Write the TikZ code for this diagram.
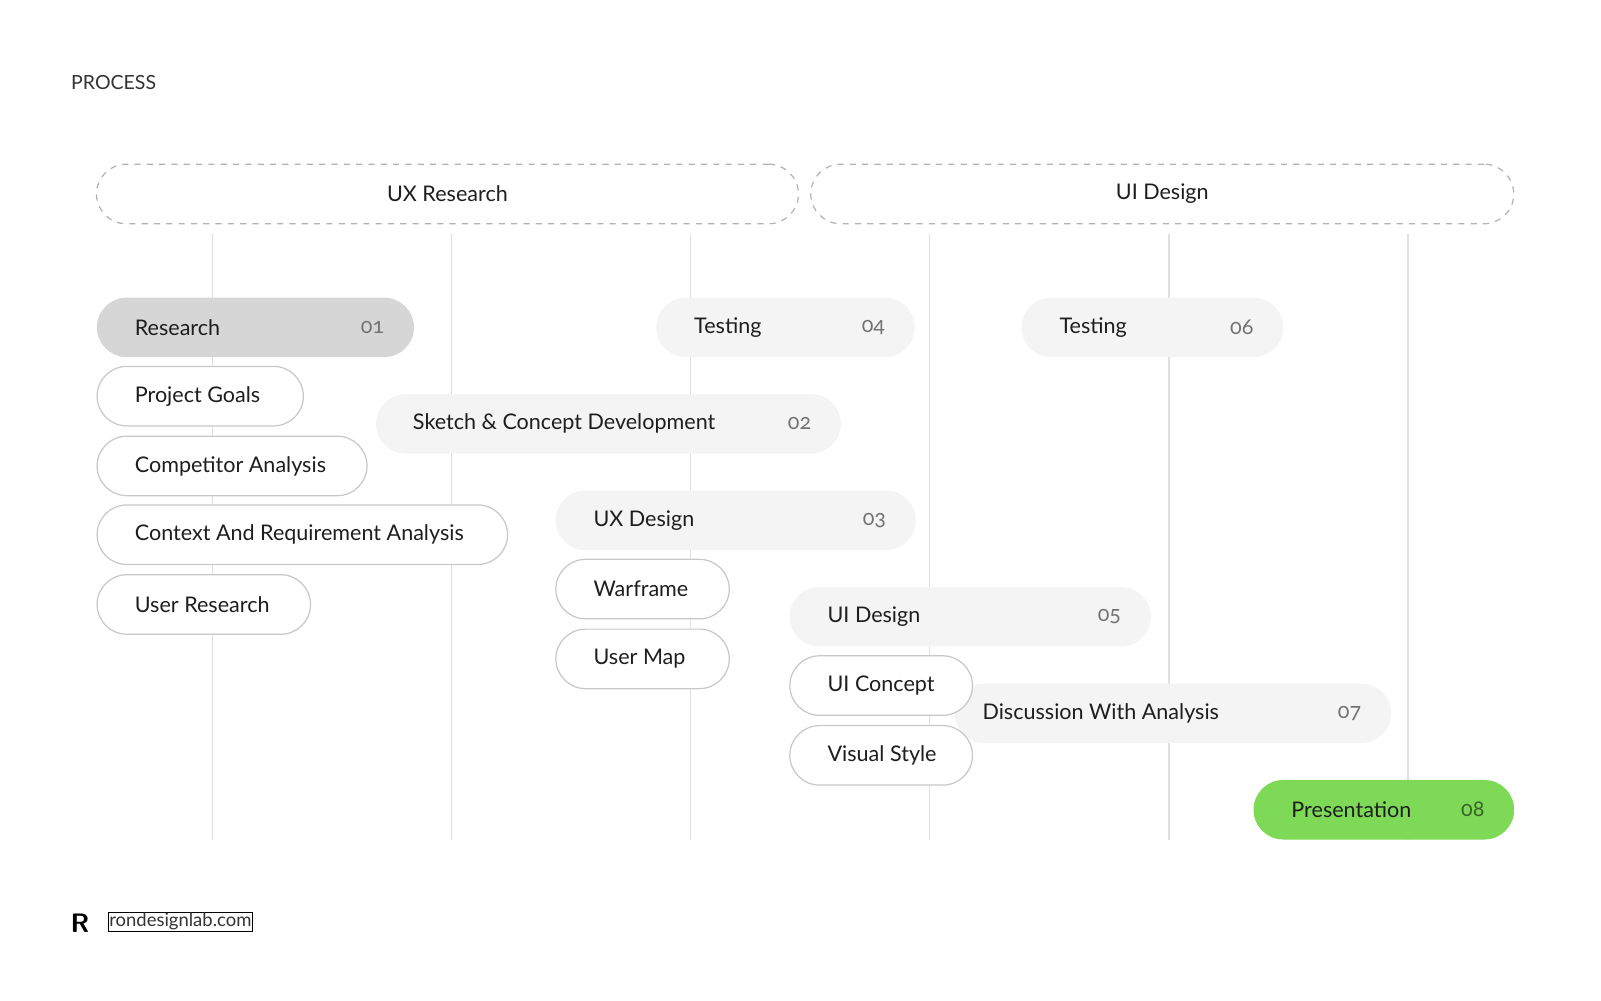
\documentclass[tikz,border=0pt]{standalone}
\usepackage{fontspec}
\setmainfont{Lato}
\newfontfamily\oldnum[Numbers=OldStyle]{Lato}
\definecolor{lg}{HTML}{F4F4F4}
\definecolor{mg}{HTML}{D6D6D6}
\definecolor{bd}{HTML}{C8C8C8}
\definecolor{gr}{HTML}{7ED957}
\definecolor{tx}{HTML}{1E1E1E}
\tikzset{
 pillbase/.style={rectangle,rounded corners=14.5pt,inner sep=0pt,minimum height=29pt,anchor=west},
 lightpill/.style={pillbase,fill=lg},
 graypill/.style={pillbase,fill=mg},
 greenpill/.style={pillbase,fill=gr},
 whitepill/.style={pillbase,fill=white,draw=bd,line width=0.6pt},
 lbl/.style={anchor=west,font=\fontsize{10.5}{12}\selectfont,text=tx,inner sep=0pt},
 num/.style={anchor=east,font=\oldnum\fontsize{10.5}{12}\selectfont,text=black!55,inner sep=0pt},
 vline/.style={draw=black!12,line width=0.6pt},
 hdr/.style={rectangle,rounded corners=14.5pt,draw=black!30,dashed,line width=0.6pt,minimum height=29pt,inner sep=0pt,font=\fontsize{10.5}{12}\selectfont,text=tx}
}
\newcommand{\pill}[8]{%
 \node[#5,minimum width={(#3-#2)*0.5pt}] (#1) at (#2,#4) {};
 \node[lbl] (#1t) at ([xshift=#8*0.5pt]#1.west) {#6};
 \node[num] (#1n) at ([xshift=-29*0.5pt]#1.east) {#7};}
\begin{document}
\begin{tikzpicture}[x=0.5pt,y=-0.5pt]
\useasboundingbox (0,0) rectangle (1560,975);
\node[anchor=west,inner sep=0pt,font=\fontsize{9.5}{11}\selectfont,text=black!80] (proc) at (69,80) {PROCESS};
\node[hdr,minimum width={684*0.5pt}] (uxr) at (436,189) {UX Research};
\node[hdr,minimum width={685*0.5pt}] (uid) at (1132.5,189) {UI Design};
\foreach \x/\n in {207/a,440/b,673/c,906/d,1139/e,1372/f}{
 \coordinate (t\n) at (\x,228); \coordinate (b\n) at (\x,818);
 \draw[vline] (t\n) -- (b\n);}
\pill{p1}{94}{403}{319}{graypill}{Research}{01}{37}
\pill{p4}{639}{891}{319}{lightpill}{Testing}{04}{37}
\pill{p6}{995}{1250}{319}{lightpill}{Testing}{06}{37}
\pill{p2}{366}{819}{413}{lightpill}{Sketch \& Concept Development}{02}{36}
\pill{p3}{541}{892}{507}{lightpill}{UX Design}{03}{37}
\pill{p5}{769}{1121}{601}{lightpill}{UI Design}{05}{37}
\pill{p7}{930}{1355}{695}{lightpill}{Discussion With Analysis}{07}{27}
\pill{g1}{94}{295}{386}{whitepill}{Project Goals}{}{37}
\pill{g2}{94}{357}{454}{whitepill}{Competitor Analysis}{}{37}
\pill{g3}{94}{494}{521}{whitepill}{Context And Requirement Analysis}{}{37}
\pill{g4}{94}{302}{589}{whitepill}{User Research}{}{37}
\pill{w1}{541}{710}{574}{whitepill}{Warframe}{}{37}
\pill{w2}{541}{710}{642}{whitepill}{User Map}{}{37}
\pill{u1}{769}{947}{668}{whitepill}{UI Concept}{}{37}
\pill{u2}{769}{947}{736}{whitepill}{Visual Style}{}{37}
\pill{p8}{1221}{1475}{789}{greenpill}{Presentation}{}{37}
\node[num,text=black!55!gr] at ([xshift=-29*0.5pt]p8.east) {08};
\node[inner sep=0pt,font=\sffamily\bfseries\fontsize{13}{13}\selectfont] (logo) at (78,900) {R};
\node[anchor=west,draw=black,line width=0.5pt,inner sep=0.5pt,font=\fontsize{9}{10}\selectfont,text=black!80] (site) at (105,898) {rondesignlab.com};
\end{tikzpicture}
\end{document}
